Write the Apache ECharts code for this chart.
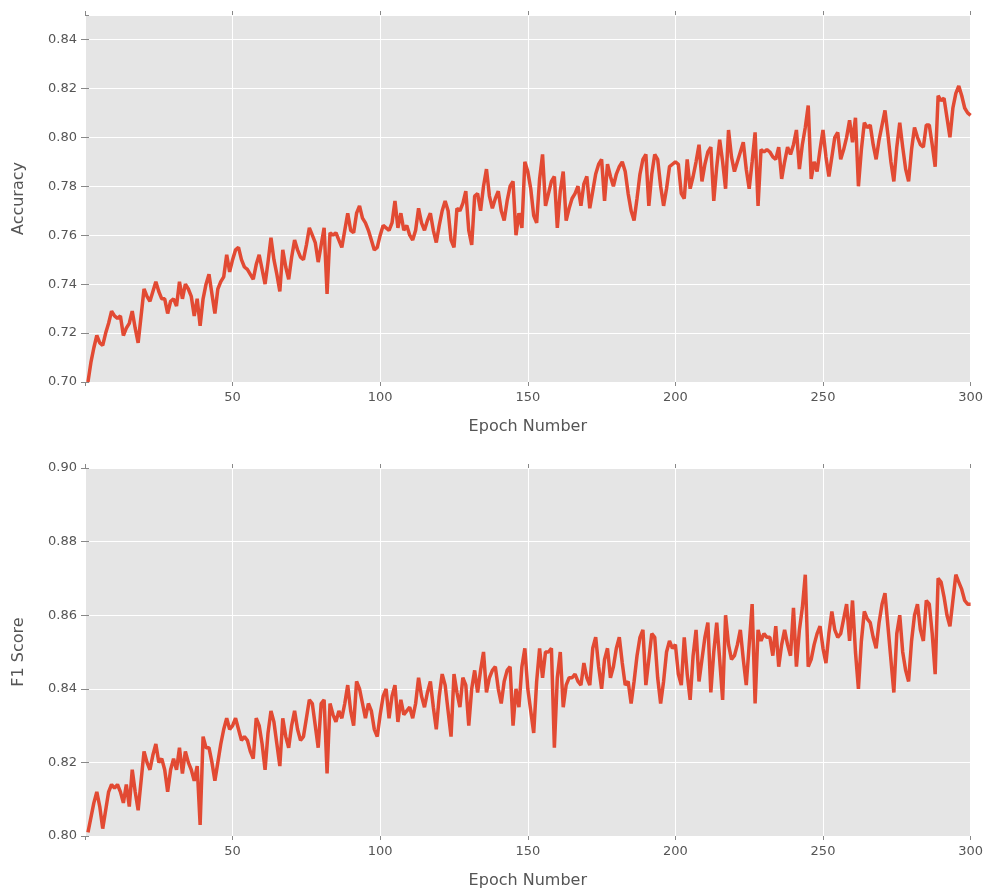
<!DOCTYPE html>
<html>
<head>
<meta charset="utf-8">
<script src="https://cdn.jsdelivr.net/npm/echarts@6/dist/echarts.min.js"></script>
<style>
  html, body { margin: 0; padding: 0; background: #fff; }
  #main { width: 986px; height: 890px; }
</style>
</head>
<body>
<div id="main"></div>
<script>
// accuracy per epoch (1..300)
var accuracy = [
  0.700,0.708,0.714,0.719,0.716,0.715,0.720,0.724,0.729,0.727,
  0.726,0.727,0.719,0.722,0.724,0.729,0.722,0.716,0.727,0.738,
  0.735,0.733,0.737,0.741,0.737,0.734,0.734,0.728,0.733,0.734,
  0.731,0.741,0.734,0.740,0.738,0.735,0.727,0.734,0.723,0.734,
  0.740,0.744,0.736,0.728,0.738,0.741,0.743,0.752,0.745,0.750,
  0.754,0.755,0.750,0.747,0.746,0.744,0.742,0.748,0.752,0.746,
  0.740,0.749,0.759,0.750,0.744,0.737,0.754,0.747,0.742,0.751,
  0.758,0.754,0.751,0.750,0.756,0.763,0.760,0.757,0.749,0.756,
  0.763,0.736,0.761,0.760,0.761,0.758,0.755,0.762,0.769,0.762,
  0.761,0.769,0.772,0.767,0.765,0.762,0.758,0.754,0.755,0.760,
  0.764,0.763,0.762,0.765,0.774,0.763,0.769,0.762,0.764,0.760,
  0.758,0.762,0.771,0.765,0.762,0.766,0.769,0.762,0.757,0.764,
  0.770,0.774,0.770,0.758,0.755,0.771,0.770,0.773,0.778,0.762,
  0.756,0.776,0.777,0.770,0.780,0.787,0.776,0.771,0.775,0.778,
  0.770,0.766,0.774,0.780,0.782,0.760,0.769,0.763,0.790,0.786,
  0.779,0.768,0.765,0.783,0.793,0.772,0.777,0.782,0.784,0.763,
  0.778,0.786,0.766,0.771,0.775,0.777,0.780,0.772,0.781,0.784,
  0.771,0.778,0.785,0.789,0.791,0.774,0.789,0.784,0.780,0.785,
  0.788,0.790,0.786,0.777,0.770,0.766,0.775,0.785,0.791,0.793,
  0.772,0.785,0.793,0.791,0.780,0.772,0.779,0.788,0.789,0.790,
  0.789,0.777,0.775,0.791,0.779,0.784,0.790,0.797,0.782,0.789,
  0.794,0.796,0.774,0.788,0.799,0.790,0.779,0.803,0.792,0.786,
  0.790,0.794,0.798,0.787,0.779,0.790,0.802,0.772,0.795,0.794,
  0.795,0.794,0.792,0.791,0.796,0.783,0.790,0.796,0.793,0.797,
  0.803,0.787,0.797,0.804,0.813,0.783,0.790,0.786,0.795,0.803,
  0.792,0.784,0.792,0.800,0.802,0.791,0.795,0.800,0.807,0.798,
  0.808,0.780,0.795,0.806,0.804,0.805,0.797,0.791,0.799,0.805,
  0.811,0.801,0.790,0.782,0.796,0.806,0.796,0.787,0.782,0.795,
  0.804,0.800,0.797,0.796,0.805,0.805,0.797,0.788,0.817,0.815,
  0.816,0.808,0.800,0.812,0.818,0.821,0.817,0.812,0.810,0.809
];

// F1 score per epoch (1..300)
var f1score = [
  0.801,0.805,0.809,0.812,0.808,0.802,0.807,0.812,0.814,0.813,
  0.814,0.812,0.809,0.814,0.808,0.818,0.812,0.807,0.815,0.823,
  0.820,0.818,0.822,0.825,0.820,0.821,0.818,0.812,0.818,0.821,
  0.818,0.824,0.817,0.823,0.820,0.818,0.815,0.819,0.803,0.827,
  0.824,0.824,0.820,0.815,0.820,0.825,0.829,0.832,0.829,0.830,
  0.832,0.829,0.826,0.827,0.826,0.823,0.821,0.832,0.830,0.825,
  0.818,0.828,0.834,0.831,0.825,0.819,0.832,0.827,0.824,0.830,
  0.834,0.829,0.826,0.827,0.832,0.837,0.836,0.830,0.824,0.836,
  0.837,0.817,0.836,0.833,0.831,0.834,0.832,0.836,0.841,0.834,
  0.830,0.842,0.840,0.836,0.832,0.836,0.834,0.829,0.827,0.833,
  0.838,0.840,0.832,0.838,0.841,0.831,0.837,0.833,0.834,0.835,
  0.832,0.836,0.843,0.838,0.835,0.839,0.842,0.835,0.829,0.838,
  0.844,0.841,0.834,0.827,0.844,0.839,0.835,0.843,0.841,0.830,
  0.840,0.845,0.839,0.845,0.850,0.839,0.843,0.845,0.846,0.840,
  0.836,0.842,0.845,0.846,0.830,0.840,0.835,0.846,0.851,0.840,
  0.834,0.828,0.842,0.851,0.843,0.850,0.850,0.851,0.824,0.843,
  0.850,0.835,0.841,0.843,0.843,0.844,0.842,0.841,0.847,0.843,
  0.841,0.851,0.854,0.846,0.840,0.848,0.851,0.843,0.846,0.851,
  0.854,0.847,0.841,0.842,0.836,0.842,0.849,0.854,0.856,0.841,
  0.848,0.855,0.854,0.843,0.836,0.842,0.850,0.853,0.851,0.852,
  0.844,0.841,0.854,0.844,0.837,0.849,0.856,0.842,0.848,0.854,
  0.858,0.839,0.850,0.858,0.848,0.837,0.860,0.852,0.848,0.849,
  0.852,0.856,0.848,0.841,0.852,0.863,0.836,0.856,0.853,0.855,
  0.854,0.854,0.849,0.857,0.846,0.852,0.856,0.852,0.849,0.862,
  0.846,0.856,0.862,0.871,0.846,0.848,0.852,0.855,0.857,0.851,
  0.847,0.855,0.861,0.856,0.854,0.855,0.859,0.863,0.853,0.864,
  0.850,0.840,0.853,0.861,0.859,0.858,0.854,0.851,0.858,0.863,
  0.866,0.857,0.848,0.839,0.855,0.860,0.850,0.845,0.842,0.853,
  0.860,0.863,0.856,0.853,0.864,0.863,0.855,0.844,0.870,0.869,
  0.865,0.860,0.857,0.864,0.871,0.869,0.867,0.864,0.863,0.863
];

var epochXTicks = [50, 100, 150, 200, 250, 300];

function pairs(vals) {
    var out = [];
    for (var i = 0; i < vals.length; i++) {
        out.push([i + 1, vals[i]]);
    }
    return out;
}

var textColor = '#555555';
var fontFam = 'DejaVu Sans';

function xBottom(gridIndex) {
    return {
        type: 'value', gridIndex: gridIndex, min: 0, max: 300, interval: 50,
        name: 'Epoch Number', nameLocation: 'middle', nameGap: 37,
        nameTextStyle: {color: textColor, fontSize: 16, fontFamily: fontFam},
        axisLine: {show: false},
        axisTick: {show: true, length: 4, lineStyle: {color: '#888'}},
        axisLabel: {
            color: textColor, fontSize: 13, fontFamily: fontFam, margin: 9,
            formatter: function (v) { return epochXTicks.indexOf(v) >= 0 ? String(v) : ''; }
        },
        splitLine: {show: true, lineStyle: {color: '#ffffff', width: 1}}
    };
}

function xTop(gridIndex) {
    return {
        type: 'value', gridIndex: gridIndex, position: 'top', min: 0, max: 300, interval: 50,
        axisLine: {show: false},
        axisTick: {show: true, length: 4, lineStyle: {color: '#888'}},
        axisLabel: {show: false},
        splitLine: {show: false}
    };
}

function yLeft(gridIndex, name, mn, mx) {
    return {
        type: 'value', gridIndex: gridIndex, min: mn, max: mx, interval: 0.02,
        name: name, nameLocation: 'middle', nameGap: 58,
        nameTextStyle: {color: textColor, fontSize: 16, fontFamily: fontFam},
        axisLine: {show: false},
        axisTick: {show: true, length: 4, lineStyle: {color: '#888'}},
        axisLabel: {
            color: textColor, fontSize: 13, fontFamily: fontFam, margin: 8,
            showMaxLabel: mx === 0.90,
            formatter: function (v) { return v.toFixed(2); }
        },
        splitLine: {show: true, lineStyle: {color: '#ffffff', width: 1}}
    };
}

function yRight(gridIndex, mn, mx) {
    return {
        type: 'value', gridIndex: gridIndex, position: 'right', min: mn, max: mx, interval: 0.02,
        axisLine: {show: false},
        axisTick: {show: true, length: 4, lineStyle: {color: '#888'}},
        axisLabel: {show: false},
        splitLine: {show: false}
    };
}

var myChart = echarts.init(document.getElementById('main'));

myChart.setOption({
    backgroundColor: '#ffffff',
    animation: false,
    grid: [
        {left: 85, right: 13, top: 15, height: 367, show: true, backgroundColor: '#e5e5e5', borderWidth: 0},
        {left: 85, right: 13, top: 468, height: 369, show: true, backgroundColor: '#e5e5e5', borderWidth: 0}
    ],
    xAxis: [xBottom(0), xTop(0), xBottom(1), xTop(1)],
    yAxis: [
        yLeft(0, 'Accuracy', 0.70, 0.85), yRight(0, 0.70, 0.85),
        yLeft(1, 'F1 Score', 0.80, 0.90), yRight(1, 0.80, 0.90)
    ],
    series: [
        {
            name: 'Accuracy', type: 'line', xAxisIndex: 0, yAxisIndex: 0,
            data: pairs(accuracy), showSymbol: false,
            lineStyle: {color: '#e24a33', width: 3.5}
        },
        {
            name: 'F1 Score', type: 'line', xAxisIndex: 2, yAxisIndex: 2,
            data: pairs(f1score), showSymbol: false,
            lineStyle: {color: '#e24a33', width: 3.5}
        }
    ]
});
</script>
</body>
</html>
